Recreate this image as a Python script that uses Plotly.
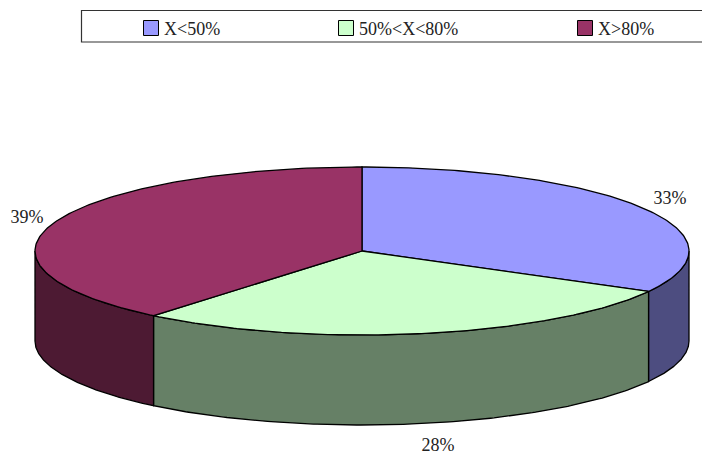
import numpy as np
import plotly.graph_objects as go

# Share of records in each band
categories = ["X<50%", "50%<X<80%", "X>80%"]
shares = [33, 28, 39]
top_colors = ["#9999FF", "#CCFFCC", "#993366"]
side_colors = ["#4D4D80", "#668066", "#4D1A33"]

# Projected disc geometry, in page pixels
CX, CY, RX, RY, DEPTH = 362, 251, 327, 84, 90
LABEL_FONT = dict(family="Liberation Serif, serif", size=18, color="#222222")
OUTLINE = dict(color="black", width=1.3)


def rim(a0, a1, n=160):
    t = np.radians(np.linspace(a0, a1, n))
    return CX + RX * np.sin(t), CY - RY * np.cos(t)


fig = go.Figure()

bounds = np.concatenate([[0], np.cumsum(shares)]) * 360 / sum(shares)

# Outer wall: only the front half of the disc is visible (90 to 270 degrees)
for i in range(len(shares)):
    lo, hi = max(bounds[i], 90), min(bounds[i + 1], 270)
    if lo >= hi:
        continue
    x, y = rim(lo, hi)
    fig.add_trace(go.Scatter(
        x=np.r_[x, x[::-1], x[0]], y=np.r_[y, y[::-1] + DEPTH, y[0]],
        mode="lines", fill="toself", fillcolor=side_colors[i], line=OUTLINE,
        hoverinfo="skip", showlegend=False,
    ))

# Top faces
for i, name in enumerate(categories):
    x, y = rim(bounds[i], bounds[i + 1])
    fig.add_trace(go.Scatter(
        x=np.r_[CX, x, CX], y=np.r_[CY, y, CY],
        mode="lines", fill="toself", fillcolor=top_colors[i], line=OUTLINE,
        name=name, showlegend=False,
    ))

# Percentage labels just outside the rim
label_xy = [(670, 199), (438, 446), (27, 218)]
fig.add_trace(go.Scatter(
    x=[p[0] for p in label_xy], y=[p[1] for p in label_xy],
    mode="text", text=[f"{v}%" for v in shares], textposition="middle center",
    textfont=LABEL_FONT, hoverinfo="skip", showlegend=False,
))

# Legend strip running off the right edge of the page
fig.add_shape(type="rect", x0=81.5, x1=720, y0=10.5, y1=42,
              line=dict(color="#333333", width=1.2), fillcolor="white", layer="below")
swatch_x = [151, 346, 585]
fig.add_trace(go.Scatter(
    x=swatch_x, y=[28] * 3, mode="markers",
    marker=dict(symbol="square", size=15, color=top_colors,
                line=dict(color="black", width=1)),
    hoverinfo="skip", showlegend=False,
))
for sx, name in zip(swatch_x, categories):
    fig.add_annotation(x=sx + 11, y=29, text=name.replace("<", "&lt;"), showarrow=False,
                       xanchor="left", yanchor="middle", font=LABEL_FONT)

fig.update_layout(
    width=702, height=453, margin=dict(l=0, r=0, t=0, b=0),
    paper_bgcolor="white", plot_bgcolor="white",
    xaxis=dict(range=[0, 702], visible=False, fixedrange=True),
    yaxis=dict(range=[453, 0], visible=False, fixedrange=True),
)
fig.write_html("out.html", config=dict(displayModeBar=False))
